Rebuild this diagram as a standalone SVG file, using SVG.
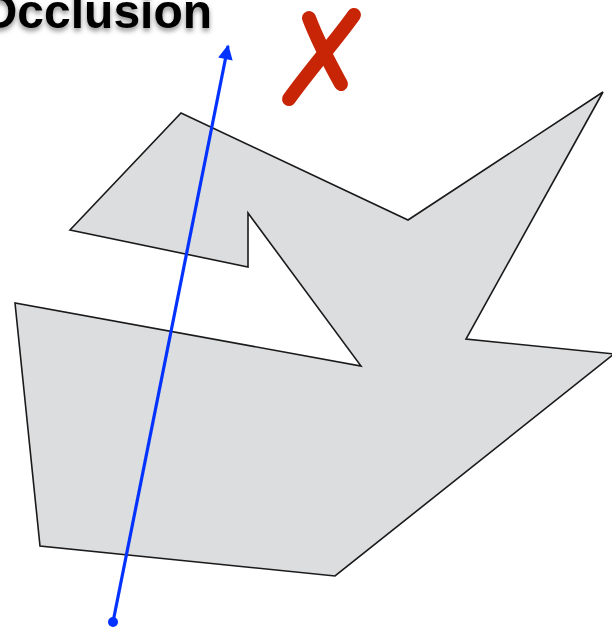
<svg xmlns="http://www.w3.org/2000/svg" width="612" height="633" viewBox="0 0 612 633">
<style>
.title{font-family:"Liberation Sans",Arial,sans-serif;font-weight:bold;font-size:48px;fill:#000}
.shape{fill:#DCDDDF;stroke:#1a1a1a;stroke-width:1.6;stroke-linejoin:miter}
.ray{stroke:#0433FF;stroke-width:3.2;fill:none}
.cross{stroke:#C82506;stroke-width:14;stroke-linecap:round;fill:none}
</style>
<defs>
<filter id="sh" x="-10%" y="-30%" width="120%" height="180%">
<feDropShadow dx="0" dy="3" stdDeviation="2.5" flood-color="#000" flood-opacity="0.45"/>
</filter>
<marker id="ah" viewBox="0 0 10 10" refX="9" refY="5" markerWidth="5" markerHeight="4.6" markerUnits="strokeWidth" orient="auto">
<path d="M0,0 L10,5 L0,10 Z" fill="#0433FF"/>
</marker>
</defs>
<text class="title" x="-20" y="28" filter="url(#sh)">Occlusion</text>
<g id="cross">
<path class="cross" d="M354,15 C338,38 308,72 289,99"/>
<path class="cross" d="M309,18 C318,42 330,64 341,84"/>
</g>
<g id="occluder">
<polygon class="shape" points="181,113 408,220 603,92 466,339 614,354 335,576 40,546 15,303 361,366 248,213 248,267 70,230"/>
</g>
<g id="connectors">
<line class="ray" x1="113" y1="622" x2="228" y2="46" marker-end="url(#ah)"/>
<circle cx="113" cy="622" r="5" fill="#0433FF"/>
</g>
</svg>
